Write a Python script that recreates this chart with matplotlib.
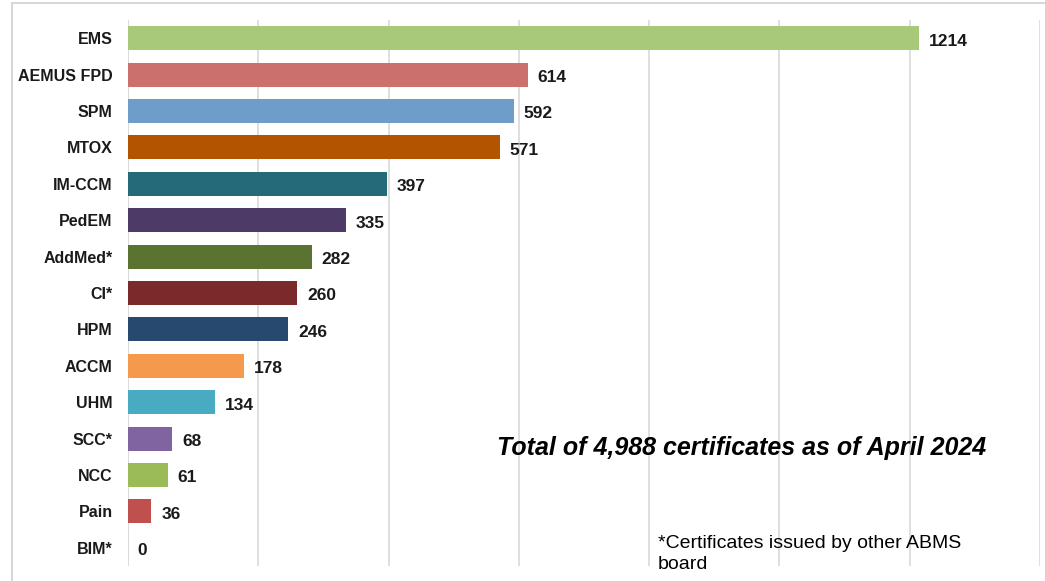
import matplotlib.pyplot as plt
from matplotlib.patches import Rectangle

categories = ['EMS', 'AEMUS FPD', 'SPM', 'MTOX', 'IM-CCM', 'PedEM', 'AddMed*', 'CI*',
              'HPM', 'ACCM', 'UHM', 'SCC*', 'NCC', 'Pain', 'BIM*']
counts = [1214, 614, 592, 571, 397, 335, 282, 260, 246, 178, 134, 68, 61, 36, 0]
colors = ['#a9c97a', '#cc706e', '#6f9dc9', '#b35400', '#246a78', '#4e3a66', '#5a7330',
          '#7a2a2a', '#28496f', '#f59a4c', '#48abc2', '#8064a2', '#9bbb59', '#c0504d', '#9bbb59']

plt.rcParams['font.family'] = ['Liberation Sans', 'DejaVu Sans']

fig = plt.figure(figsize=(10.45, 5.81), dpi=100)
ax = fig.add_axes([128 / 1045, 1 - 566 / 581, 912 / 1045, 546 / 581])

ypos = list(range(len(categories)))
ax.barh(ypos, counts, height=0.66, color=colors, zorder=3)
for y, v in zip(ypos, counts):
    ax.text(v + 15, y + 0.08, str(v), va='center', ha='left',
            fontsize=12.5, fontweight='bold', color='#1a1a1a')

ax.set_xlim(0, 1400)
ax.set_ylim(len(categories) - 0.5, -0.5)
ax.set_yticks(ypos)
ax.set_yticklabels(categories, fontsize=11.5, fontweight='bold', color='#1a1a1a')
ax.tick_params(axis='y', length=0, pad=11)
ax.set_xticks(range(0, 1401, 200))
ax.set_xticklabels([])
ax.tick_params(axis='x', length=0)
ax.grid(axis='x', color='#d9d9d9', linewidth=1.2, zorder=0)
for s in ax.spines.values():
    s.set_visible(False)
ax.axvline(0, color='#d9d9d9', linewidth=1.2, zorder=1)

fig.text(742 / 1045, 1 - 448 / 581, 'Total of 4,988 certificates as of April 2024',
         ha='center', va='center', fontsize=18, fontweight='bold', style='italic')
fig.text(658 / 1045, 1 - 554 / 581, '*Certificates issued by other ABMS\nboard',
         ha='left', va='center', fontsize=14, linespacing=1.3)

fig.patches.append(Rectangle((12 / 1045, -0.01), 1.1, 1 - 3 / 581 + 0.01,
                             transform=fig.transFigure, fill=False,
                             edgecolor='#d0d0d0', linewidth=1.2))

fig.savefig('out.png', dpi=100)
